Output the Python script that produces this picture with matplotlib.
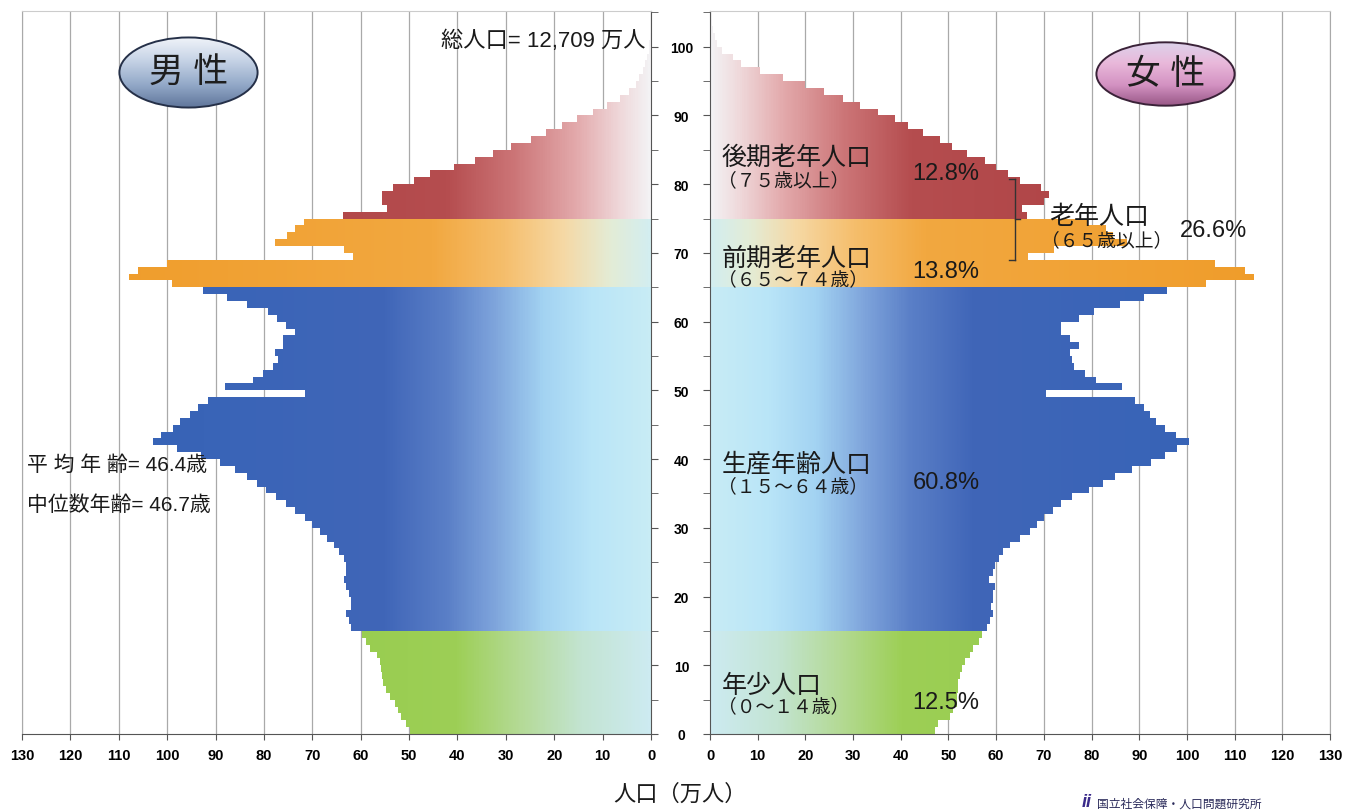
import numpy as np
import matplotlib.pyplot as plt
from matplotlib.colors import LinearSegmentedColormap
from matplotlib.path import Path
from matplotlib.patches import PathPatch, Ellipse

plt.rcParams['font.family'] = ['Liberation Sans', 'Noto Sans CJK JP']

# ---- data (万人), single years of age 0..104 ----
ages = np.arange(0, 105)

male = [
    49.8, 50.7, 51.6, 52.3, 53.0, 54.0, 54.7, 55.4, 55.5, 55.7,
    56.0, 56.7, 58.1, 58.8, 59.8, 61.9, 62.5, 63.0, 62.0, 62.0,
    62.5, 63.0, 63.5, 63.0, 63.0, 63.5, 64.5, 65.5, 67.0, 68.5,
    70.0, 71.5, 73.5, 75.5, 77.5, 79.5, 81.5, 83.5, 86.0, 89.0,
    93.0, 98.0, 102.9, 101.2, 98.8, 97.4, 95.3, 93.6, 91.6, 71.6,
    88.1, 82.3, 80.2, 78.1, 77.1, 77.8, 76.1, 76.0, 73.6, 75.4,
    77.4, 79.1, 83.6, 87.7, 92.6, 99.0, 107.8, 106.0, 100.0, 61.6,
    63.5, 77.8, 75.2, 73.5, 71.7, 63.7, 54.5, 55.6, 55.6, 53.4,
    49.0, 45.6, 40.8, 36.4, 32.7, 29.0, 24.9, 21.6, 18.3, 15.3,
    12.0, 9.1, 6.5, 4.6, 3.2, 2.4, 1.7, 1.2, 0.8, 0.5,
    0.35, 0.2, 0.1, 0.05, 0.0,
]

female = [
    47.2, 47.9, 50.3, 51.0, 51.7, 51.7, 52.1, 52.1, 52.4, 52.8,
    53.5, 54.5, 55.2, 56.3, 57.0, 58.0, 58.7, 59.4, 59.0, 59.4,
    59.4, 59.7, 58.5, 59.4, 59.7, 60.5, 61.5, 63.0, 65.0, 67.0,
    68.5, 70.0, 72.0, 73.5, 76.0, 79.5, 82.5, 85.0, 88.5, 92.5,
    95.5, 98.0, 100.5, 97.7, 95.5, 93.6, 92.3, 90.9, 89.1, 70.5,
    86.4, 80.9, 78.6, 76.4, 75.9, 75.5, 77.3, 75.5, 73.6, 73.6,
    77.3, 80.5, 85.9, 90.9, 95.9, 104.0, 114.0, 112.2, 105.8, 66.6,
    72.1, 87.5, 84.5, 83.0, 79.0, 66.5, 65.5, 70.0, 71.0, 69.5,
    65.0, 62.5, 60.0, 57.7, 53.8, 50.7, 48.2, 44.7, 41.6, 38.8,
    35.3, 31.4, 27.9, 23.8, 19.9, 15.4, 10.5, 6.6, 4.9, 2.5,
    1.4, 1.0, 0.6, 0.4, 0.2,
]

# age groups: 年少 / 生産年齢 / 前期老年 / 後期老年
group_bounds = [(0, 15), (15, 65), (65, 75), (75, 105)]

x_ticks = list(range(0, 131, 10))
age_ticks = list(range(0, 101, 10))

# gradient stops by absolute value (万人)
def make_cmap(stops):
    return LinearSegmentedColormap.from_list('g', [(v / 130, c) for v, c in stops])

cmaps = [
    make_cmap([(0, '#cdebf1'), (14, '#c3e4d2'), (27, '#b4da95'), (40, '#9dcf56'), (130, '#8bc63c')]),
    make_cmap([(0, '#c8ecf5'), (12, '#b9e5f8'), (22, '#a3d3f2'), (32, '#7fa5dc'), (42, '#5a7fc7'),
               (55, '#4066b8'), (130, '#3262b6')]),
    make_cmap([(0, '#d3eef0'), (8, '#e3ecd6'), (18, '#f6d8a4'), (30, '#f5be6c'), (45, '#f2a840'),
               (130, '#ef9a26')]),
    make_cmap([(0, '#f3f2f4'), (6, '#efd8da'), (15, '#e3aaac'), (28, '#cc7577'), (42, '#b54d4f'),
               (130, '#a8393b')]),
]

fig = plt.figure(figsize=(13.62, 8.12), dpi=100)
fig.patch.set_facecolor('white')

ax_m = fig.add_axes([22 / 1362, 1 - 735 / 812, 629 / 1362, 723 / 812])
ax_f = fig.add_axes([710 / 1362, 1 - 735 / 812, 620 / 1362, 723 / 812])


def draw_side(ax, vals):
    bars = ax.barh(ages, vals, height=1.0, align='edge', color='none', edgecolor='none')
    grad = np.linspace(0, 1, 600).reshape(1, -1)
    for (a0, a1), cmap in zip(group_bounds, cmaps):
        paths = [r.get_path().transformed(r.get_patch_transform()) for r in bars.patches[a0:a1]]
        clip = PathPatch(Path.make_compound_path(*paths), transform=ax.transData,
                         facecolor='none', edgecolor='none')
        ax.add_patch(clip)
        im = ax.imshow(grad, cmap=cmap, vmin=0, vmax=1, extent=(0, 130, a0, a1),
                       aspect='auto', origin='lower', interpolation='bilinear', zorder=2)
        im.set_clip_path(clip)


for ax, vals in [(ax_m, male), (ax_f, female)]:
    draw_side(ax, vals)
    ax.set_ylim(0, 105.2)
    ax.set_xticks(x_ticks)
    ax.grid(axis='x', color='#a9a9a9', lw=0.9)
    ax.set_axisbelow(True)
    ax.set_yticks(age_ticks)
    ax.set_yticks(list(range(5, 106, 10)), minor=True)
    ax.tick_params(axis='x', length=4, color='#555555', labelsize=10.5, pad=6)
    ax.tick_params(axis='y', which='both', length=5, color='#555555')
    for lab in ax.get_xticklabels():
        lab.set_fontweight('bold')

ax_m.set_xlim(130, 0)
ax_f.set_xlim(0, 130)

ax_m.yaxis.tick_right()
ax_m.tick_params(axis='y', labelsize=10, pad=17)
for lab in ax_m.get_yticklabels():
    lab.set_fontweight('bold')
    lab.set_horizontalalignment('center')
ax_f.tick_params(axis='y', labelleft=False)

ax_m.spines['right'].set_color('#555555')
ax_m.spines['bottom'].set_color('#555555')
ax_m.spines['top'].set_color('#cccccc')
ax_m.spines['left'].set_color('#a9a9a9')
ax_f.spines['left'].set_color('#555555')
ax_f.spines['bottom'].set_color('#555555')
ax_f.spines['top'].set_color('#cccccc')
ax_f.spines['right'].set_color('#a9a9a9')

# ---- texts ----
tc = '#1a1a1a'
ax_m.text(1.2, 100.9, '総人口= 12,709 万人', ha='right', va='center', fontsize=16, color=tc, zorder=5)
ax_m.text(128.9, 39.3, '平 均 年 齢= 46.4歳', ha='left', va='center', fontsize=15, color=tc, zorder=5)
ax_m.text(128.9, 33.5, '中位数年齢= 46.7歳', ha='left', va='center', fontsize=15, color=tc, zorder=5)

labels_f = [
    ('後期老年人口', '（７５歳以上）', '12.8%', 84.0, 80.6, 81.7),
    ('前期老年人口', '（６５～７４歳）', '13.8%', 69.3, 66.2, 67.4),
    ('生産年齢人口', '（１５～６４歳）', '60.8%', 39.3, 36.1, 36.7),
    ('年少人口', '（０～１４歳）', '12.5%', 7.1, 4.1, 4.7),
]
for name, rng, pct, y1, y2, y3 in labels_f:
    ax_f.text(2.4, y1, name, ha='left', va='center', fontsize=18, color=tc, zorder=5)
    ax_f.text(1.6, y2, rng, ha='left', va='center', fontsize=13.5, color=tc, zorder=5)
    ax_f.text(42.5, y3, pct, ha='left', va='center', fontsize=17, color=tc, zorder=5)

ax_f.text(71.2, 75.3, '老年人口', ha='left', va='center', fontsize=18, color=tc, zorder=5)
ax_f.text(69.4, 71.8, '（６５歳以上）', ha='left', va='center', fontsize=13.5, color=tc, zorder=5)
ax_f.text(98.5, 73.4, '26.6%', ha='left', va='center', fontsize=17, color=tc, zorder=5)

# bracket for 老年人口
bx = 63.9
ax_f.plot([bx, bx], [68.9, 80.8], color='#333333', lw=1, zorder=5)
ax_f.plot([bx - 1.2, bx], [80.8, 80.8], color='#333333', lw=1, zorder=5)
ax_f.plot([bx - 1.2, bx], [68.9, 68.9], color='#333333', lw=1, zorder=5)
ax_f.plot([bx, bx + 1.2], [75.0, 75.0], color='#333333', lw=1, zorder=5)

fig.text(680 / 1362, 1 - 795 / 812, '人口（万人）', ha='center', va='center', fontsize=16, color=tc)
fig.text(1082 / 1362, 1 - 803 / 812, 'ii', ha='left', va='center', fontsize=13, color='#3a2a8a',
         style='italic', fontweight='bold')
fig.text(1097 / 1362, 1 - 805 / 812, '国立社会保障・人口問題研究所', ha='left', va='center',
         fontsize=8.5, color='#2a2a5a')


# ---- oval badges ----
def badge(rect, text, colors, edge):
    bax = fig.add_axes(rect)
    bax.set_axis_off()
    cm = LinearSegmentedColormap.from_list('b', colors)
    im = bax.imshow(np.linspace(0, 1, 200).reshape(-1, 1), cmap=cm, aspect='auto',
                    extent=(0, 1, 0, 1), origin='upper')
    bax.set_xlim(0, 1)
    bax.set_ylim(0, 1)
    ell = Ellipse((0.5, 0.5), 0.98, 0.96, transform=bax.transAxes, facecolor='none',
                  edgecolor=edge, lw=1.4)
    bax.add_patch(ell)
    im.set_clip_path(ell)
    bax.text(0.5, 0.5, text, ha='center', va='center', fontsize=25, color='#1e1e1e')


badge([118 / 1362, 1 - 110 / 812, 141 / 1362, 73 / 812], '男 性',
      ['#f2f5fa', '#c6d3e6', '#93a9c8', '#5d7398'], '#253048')
badge([1095 / 1362, 1 - 108 / 812, 141 / 1362, 66 / 812], '女 性',
      ['#dcd4ec', '#e9b8da', '#d392c2', '#955483'], '#3a2238')

fig.savefig('out.png', dpi=100)
